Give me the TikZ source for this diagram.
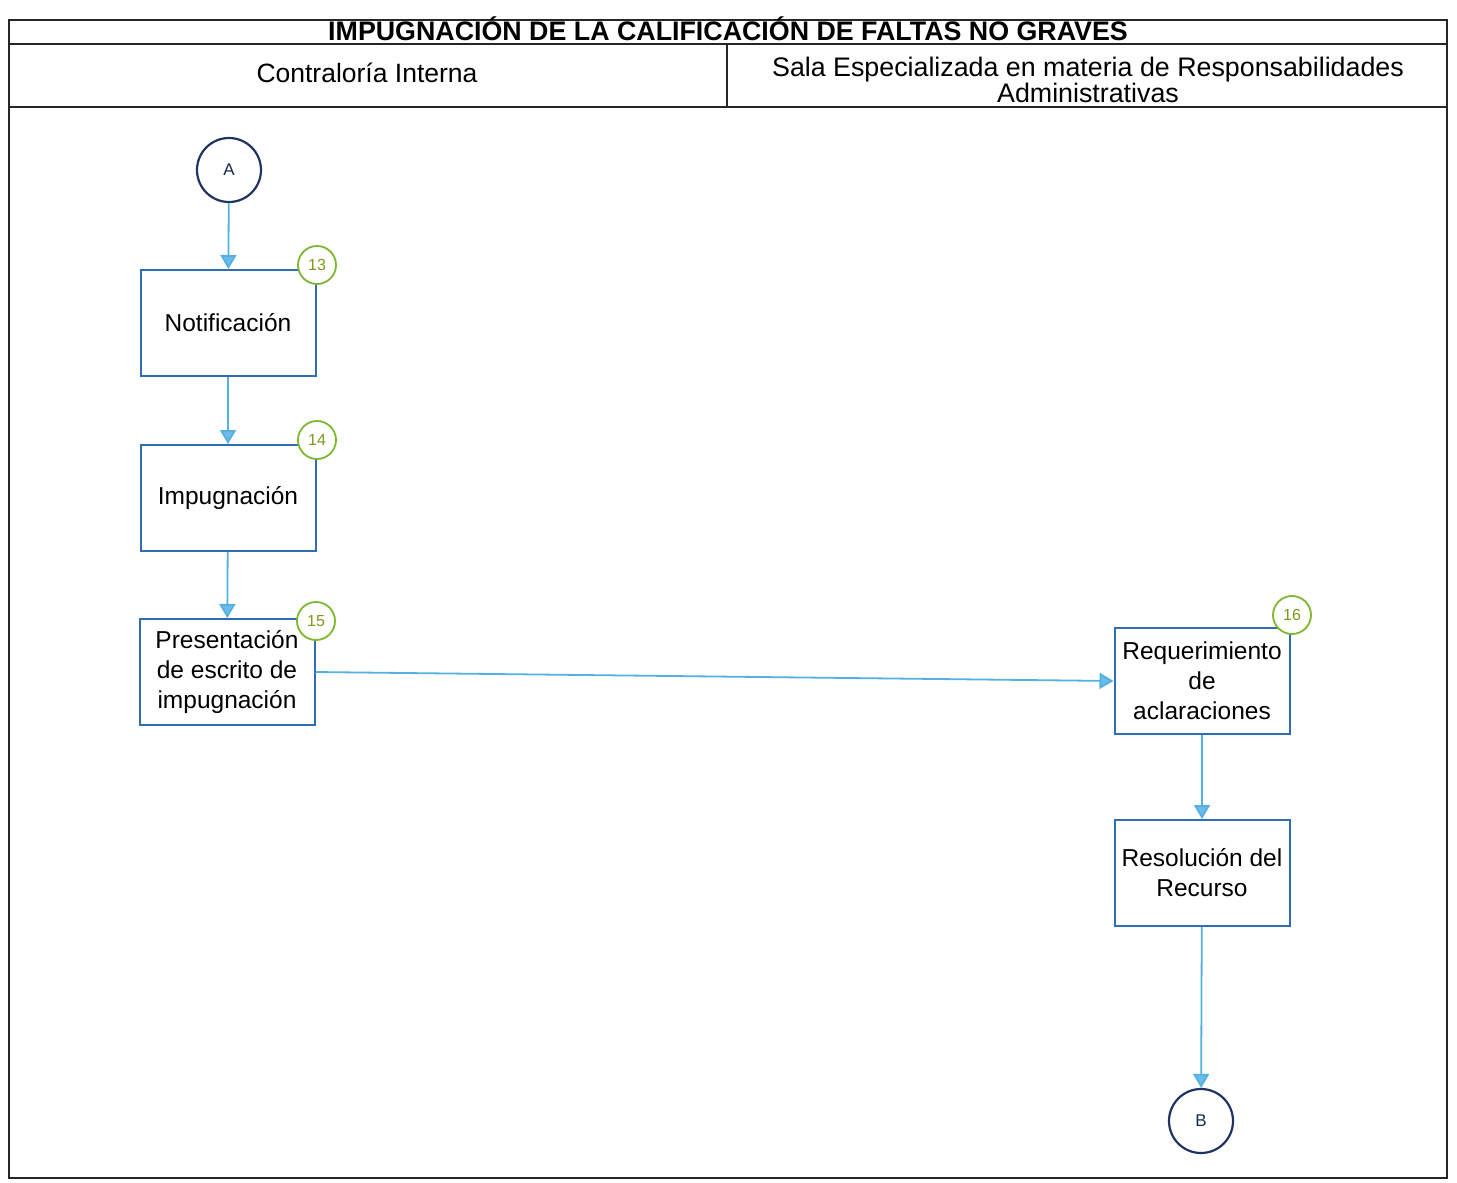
\documentclass[tikz,border=0pt]{standalone}
\usepackage{fontspec}
\setmainfont{Liberation Sans}
\usetikzlibrary{arrows.meta}
\definecolor{boxblue}{HTML}{2F6DB5}
\definecolor{flowblue}{HTML}{55B0E2}
\definecolor{tipblue}{HTML}{6CBCEB}
\definecolor{navy}{HTML}{1F3460}
\definecolor{badgegreen}{HTML}{7DB82E}
\definecolor{badgetext}{HTML}{7A9A1E}
\tikzset{
  frame/.style={draw=black!85, line width=1.3pt},
  stepbox/.style={draw=boxblue, line width=2pt, minimum width=175pt, minimum height=106pt,
    align=center, font=\fontsize{24.5}{30}\selectfont, inner sep=2pt},
  connector/.style={draw=navy, line width=2.2pt, circle, minimum size=64pt, font=\fontsize{17}{18}\selectfont, text=navy!80!black},
  badge/.style={draw=badgegreen, line width=1.8pt, circle, fill=white, minimum size=38pt, inner sep=0pt,
    font=\fontsize{16}{17}\selectfont, text=badgetext},
  flow/.style={draw=flowblue, line width=1.8pt, -{Triangle[width=16pt,length=14pt,fill=tipblue]}},
}
\begin{document}
\begin{tikzpicture}[x=1pt,y=-1pt]
\useasboundingbox (0,0) rectangle (1457,1183);
\fill[white] (0,0) rectangle (1457,1183);

% table frame with title and lane headers
\draw[frame] (9,20) rectangle (1447,1178);
\draw[frame] (9,44) -- (1447,44);
\draw[frame] (9,107) -- (1447,107);
\draw[frame] (727,44) -- (727,107);
\node (title) at (728,29) {\fontsize{26.8}{28}\selectfont\bfseries IMPUGNACIÓN DE LA CALIFICACIÓN DE FALTAS NO GRAVES};
\node (laneA) at (367,73) {\fontsize{26.5}{28}\selectfont Contraloría Interna};
\node[align=center] (laneB) at (1088,80) {\fontsize{26.8}{29}\selectfont Sala Especializada en materia de Responsabilidades\\\fontsize{26.8}{29}\selectfont Administrativas};

% process steps
\node[connector] (A) at (229,170) {A};
\node[stepbox] (s13) at (228,323) {Notificación};
\node[stepbox] (s14) at (228,498) {Impugnación};
\node[stepbox] (s15) at (227,672) {Presentación\\de escrito de\\impugnación};
\node[stepbox] (s16) at (1202,681) {Requerimiento\\de\\aclaraciones};
\node[stepbox] (s17) at (1202,873) {Resolución del\\Recurso};
\node[connector] (B) at (1201,1121) {B};

% step numbers
\node[badge] (b13) at (317,265) {13};
\node[badge] (b14) at (317,440) {14};
\node[badge] (b15) at (316,621) {15};
\node[badge] (b16) at (1292,615) {16};

% flow
\draw[flow] (A) -- (s13);
\draw[flow] (s13) -- (s14);
\draw[flow] (s14) -- (s15);
\draw[flow] (s15.east) -- (s16.west);
\draw[flow] (s16) -- (s17);
\draw[flow] (s17) -- (B);
\end{tikzpicture}
\end{document}
